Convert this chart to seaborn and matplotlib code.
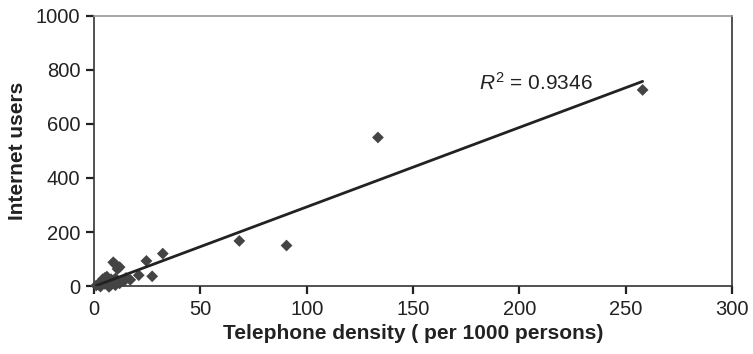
import matplotlib
matplotlib.use("Agg")
import matplotlib.pyplot as plt
import seaborn as sns
import pandas as pd

tele_density = [258, 133.5, 90.5, 68.3, 32.3, 24.6, 27.3, 21, 9, 10, 11, 12, 17, 13.8,
                1, 2, 3, 3, 4, 4, 5, 5, 6, 6, 7, 7, 8, 8, 9, 10, 10, 11, 12, 14, 15]
internet_users = [726, 550, 150, 167, 120, 93, 36, 40, 88, 80, 63, 70, 23, 21,
                  2, 5, 10, -2, 15, 25, 30, 8, 20, 35, 12, -3, 25, 5, 15, 28, 3, 20, 10, 18, 30]
r2_label = "$R^2$ = 0.9346"

df = pd.DataFrame({"x": tele_density, "y": internet_users})

sns.set_style("ticks")
plt.rcParams["font.family"] = ["Liberation Sans", "DejaVu Sans"]
plt.rcParams["mathtext.fontset"] = "custom"
plt.rcParams["mathtext.it"] = "Liberation Sans:italic"
plt.rcParams["mathtext.rm"] = "Liberation Sans"

fig = plt.figure(figsize=(7.53, 3.54), dpi=100)
ax = fig.add_axes([0.125, 0.192, 0.847, 0.763])

sns.regplot(data=df, x="x", y="y", ax=ax, ci=None, truncate=True, marker="D",
            scatter_kws=dict(s=36, color="#444444", edgecolors="none", alpha=1,
                             clip_on=False, zorder=3),
            line_kws=dict(color="#222222", lw=2, zorder=4))

ax.set_xlim(0, 300)
ax.set_ylim(0, 1000)
ax.set_xticks([0, 50, 100, 150, 200, 250, 300])
ax.set_yticks([0, 200, 400, 600, 800, 1000])
ax.tick_params(axis="both", which="major", labelsize=14.5, length=6, width=1.6,
               direction="out", color="#222222", labelcolor="#222222", pad=4)
for s in ax.spines.values():
    s.set_color("#333333")
    s.set_linewidth(1.2)
ax.spines["top"].set_color("#999999")
ax.set_xlabel("Telephone density ( per 1000 persons)", fontsize=15, fontweight="bold",
              color="#222222", labelpad=4)
ax.set_ylabel("Internet users", fontsize=15, fontweight="bold", color="#222222", labelpad=6)
ax.text(181, 725, r2_label, fontsize=15, color="#222222")

fig.savefig("out.png", dpi=100)
